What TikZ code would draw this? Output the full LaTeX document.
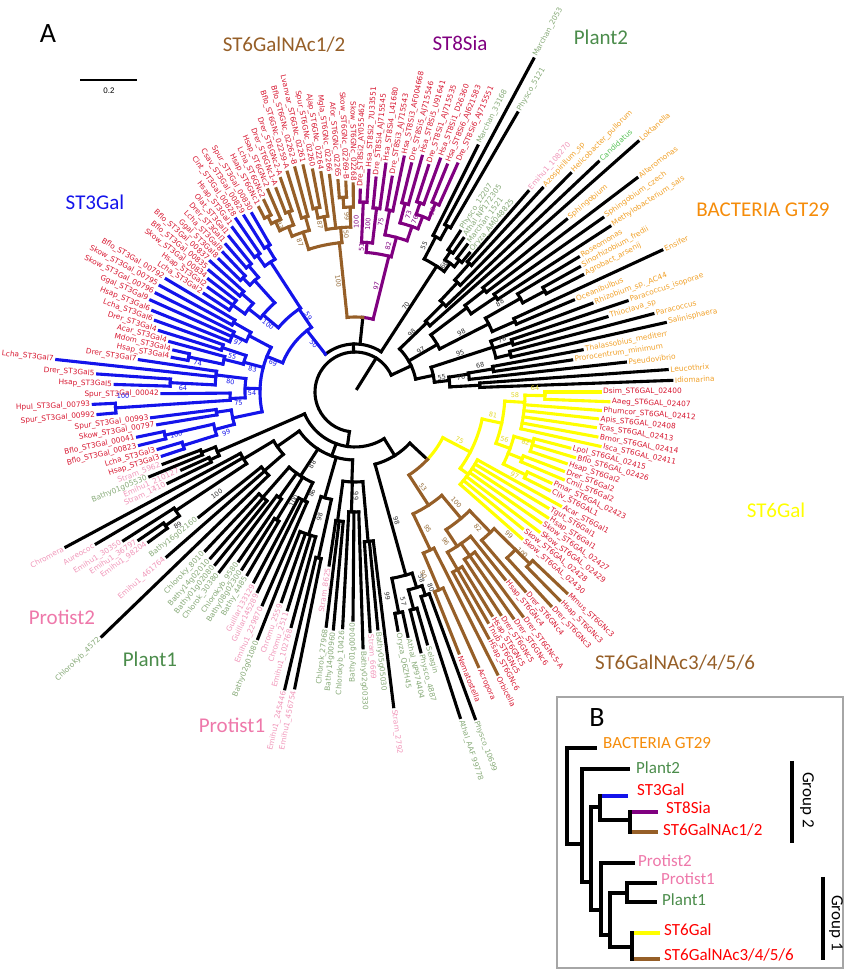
\documentclass[tikz,border=0pt]{standalone}
\usepackage{fontspec}
\setmainfont{Liberation Sans}
\newfontfamily\carl{Carlito}
\newfontfamily\tipf{DejaVu Sans}
\definecolor{stBlue}{RGB}{20,20,235}
\definecolor{stPurple}{RGB}{128,0,128}
\definecolor{stBrown}{RGB}{150,95,40}
\definecolor{stYellow}{RGB}{255,255,0}
\definecolor{redL}{RGB}{215,25,50}
\definecolor{orgL}{RGB}{240,160,40}
\definecolor{orgT}{RGB}{245,140,10}
\definecolor{pltL}{RGB}{135,170,120}
\definecolor{pltT}{RGB}{75,140,75}
\definecolor{pnkL}{RGB}{240,150,185}
\definecolor{pnkT}{RGB}{238,120,170}
\definecolor{grnC}{RGB}{90,195,90}
\definecolor{bsGray}{RGB}{50,50,50}
\definecolor{bsBrown}{RGB}{150,110,60}
\definecolor{bsYel}{RGB}{225,215,40}
\tikzset{
  br/.style={line width=3.1pt, line cap=rect},
  bk/.style={br, black},
  bl/.style={br, stBlue},
  pu/.style={br, stPurple},
  bn/.style={br, stBrown},
  ye/.style={br, stYellow},
  lbl/.style={font=\tipf\fontsize{7.4}{8}\selectfont, inner sep=0pt},
  bsl/.style={font=\tipf\fontsize{6.5}{7}\selectfont, inner sep=0.5pt},
  grp/.style={font=\carl\fontsize{21}{24}\selectfont, inner sep=0pt},
  blab/.style={font=\carl\fontsize{17}{20}\selectfont, anchor=west, inner sep=0pt},
  bbr/.style={line width=3.6pt, line cap=rect},
}
% radial branch: style, angle, r1, r2
\newcommand\rad[4]{\draw[#1] ([shift={(C)}]#2:#3pt) -- ([shift={(C)}]#2:#4pt);}
% arc branch: style, angle1, angle2, r
\newcommand\arcb[4]{\draw[#1] ([shift={(C)}]#2:#4pt) arc[start angle=#2, end angle=#3, radius=#4pt];}
% tip: style, angle, parent r, tip r, label colour, label
\newcommand\tip[6]{%
  \rad{#1}{#2}{#3}{#4}
  \pgfmathsetmacro\tipang{mod(#2+720,360)}%
  \pgfmathtruncatemacro\tipleft{(\tipang>90)*(\tipang<270)}%
  \pgfmathsetmacro\tipr{#4+3}%
  \ifnum\tipleft=1
    \pgfmathsetmacro\tiprot{\tipang-180}%
    \node[lbl,text=#5,anchor=east,rotate=\tiprot] at ([shift={(C)}]#2:\tipr pt) {#6};
  \else
    \node[lbl,text=#5,anchor=west,rotate=#2] at ([shift={(C)}]#2:\tipr pt) {#6};
  \fi}
% bootstrap value: colour, angle, r, value
\newcommand\bsn[4]{%
  \pgfmathsetmacro\bsang{mod(#2+720,360)}%
  \pgfmathtruncatemacro\bsleft{(\bsang>90)*(\bsang<270)}%
  \ifnum\bsleft=1 \pgfmathsetmacro\bsrot{\bsang-180}\else\pgfmathsetmacro\bsrot{#2}\fi
  \node[bsl,text=#1,rotate=\bsrot] at ([shift={(C)}]#2:#3pt) {#4};}

\begin{document}
\catcode`\_=12
\begin{tikzpicture}[x=1pt,y=1pt]
  \useasboundingbox (0,0) rectangle (850,975);
  \coordinate (C) at (355,583);

  % root ring
  \rad{bk}{58}{4}{40}
  \arcb{bk}{25}{262}{40}

  % Bacteria GT29
  \rad{bk}{25}{40}{62} \arcb{bk}{12}{44}{62}
  \rad{bk}{44}{62}{100} \arcb{bk}{41.5}{45.1}{100}
  \rad{bk}{45.1}{100}{125} \arcb{bk}{43.4}{46.9}{125}
  \rad{bk}{46.9}{125}{150} \arcb{bk}{45.4}{48.3}{150}
  \rad{bk}{48.3}{150}{172} \arcb{bk}{47.4}{49.2}{172}
  \rad{bk}{30}{62}{95} \arcb{bk}{27}{37}{95}
  \rad{bk}{37}{95}{140} \arcb{bk}{34}{38.2}{140}
  \rad{bk}{38.2}{140}{165} \arcb{bk}{37.2}{39.2}{165}
  \rad{bk}{34}{140}{170} \arcb{bk}{33}{35.1}{170}
  \rad{bk}{27}{95}{150} \arcb{bk}{23.8}{29.5}{150}
  \rad{bk}{29.5}{150}{190} \arcb{bk}{28}{31.1}{190}
  \rad{bk}{28}{190}{215} \arcb{bk}{27.2}{29.1}{215}
  \rad{bk}{23.8}{150}{175} \arcb{bk}{22.8}{24.8}{175}
  \rad{bk}{12}{62}{80} \arcb{bk}{7}{18}{80}
  \rad{bk}{18}{80}{145} \arcb{bk}{13.6}{20.5}{145}
  \rad{bk}{17.5}{145}{165} \arcb{bk}{16.6}{18.5}{165}
  \rad{bk}{13.6}{145}{160} \arcb{bk}{12.6}{14.7}{160}
  \rad{bk}{7}{80}{95} \arcb{bk}{3.1}{9}{95}
  \rad{bk}{9}{95}{115} \arcb{bk}{6.3}{9.5}{115}
  \rad{bk}{9.5}{115}{140} \arcb{bk}{8.4}{10.5}{140}
  \rad{bk}{3.1}{95}{125} \arcb{bk}{2.1}{4.1}{125}
  \tip{bk}{43.4}{125}{335}{grnC}{Candidatus}
  \tip{bk}{49.2}{172}{265}{pnkL}{Emihu1_108270}
  \foreach \an/\rp/\rt/\nm in {41.5/100/378/Loktanella, 45.4/150/307/Helicobacter_pullorum,
      47.4/172/277/Azospirillum_sp, 39.2/165/273/Sphingobium, 37.2/165/354/Alteromonas,
      35.1/170/303/Sphingobium_czech, 33.0/170/304/Methylobacterium_sals, 31.1/190/261/Roseomonas,
      29.1/215/257/Sinorhizobium_fredii, 27.2/215/256/Agrobact_arsenij, 24.8/175/338/Ensifer,
      22.8/175/237/Oceanibulbus, 20.5/145/253/Rhizobium_sp._AC44, 18.5/165/287/Paracoccus_isoporae,
      16.6/165/263/Thioclava_sp, 14.7/160/308/Paracoccus, 12.6/160/318/Salinisphaera,
      10.5/140/231/Thalassobius_mediterr, 8.4/140/219/Prorocentrum_minimum, 6.3/115/272/Pseudovibrio,
      4.1/125/313/Leucothrix, 2.1/125/317/Idiomarina}
    {\tip{bk}{\an}{\rp}{\rt}{orgL}{\nm}}

  % upper eukaryote arc and Plant2
  \rad{bk}{92}{40}{48} \arcb{bk}{57}{128}{48}
  \rad{bk}{57}{48}{150} \arcb{bk}{53.5}{62.5}{150}
  \rad{bk}{62.5}{150}{175} \arcb{bk}{60.8}{63.5}{175}
  \rad{bk}{60.8}{175}{190} \arcb{bk}{59.8}{61.8}{190}
  \rad{bk}{53.5}{150}{160} \arcb{bk}{51.6}{55.8}{160}
  \rad{bk}{55.8}{160}{170} \arcb{bk}{54.8}{56.8}{170}
  \rad{bk}{51.6}{160}{168} \arcb{bk}{50.5}{52.7}{168}
  \foreach \an/\rp/\rt/\nm in {63.5/175/275/Marchan_33168, 61.8/190/378/Marchan_2053,
      59.8/190/323/Physco_5121, 56.8/170/192/Physco_12207, 54.8/170/188/Athal_NP172305,
      52.7/168/185/Marchan_1521, 50.5/168/180/Oryza_AM048825}
    {\tip{bk}{\an}{\rp}{\rt}{pltL}{\nm}}

  % ST8Sia and ST6GalNAc1/2
  \rad{bk}{84}{48}{75}
  \arcb{pu}{76}{84}{75} \arcb{bn}{84}{96}{75}
  \rad{pu}{76}{75}{140} \arcb{pu}{75}{85.4}{140}
  \rad{pu}{85.4}{140}{150} \arcb{pu}{83.3}{87.5}{150}
  \rad{pu}{87.5}{150}{190} \arcb{pu}{86.4}{88.5}{190}
  \rad{pu}{83.3}{150}{185} \arcb{pu}{82.3}{84.4}{185}
  \rad{pu}{75}{140}{160} \arcb{pu}{71}{79.2}{160}
  \rad{pu}{79.2}{160}{185} \arcb{pu}{78.2}{80.2}{185}
  \rad{pu}{71}{160}{175} \arcb{pu}{68.9}{75.1}{175}
  \rad{pu}{75.1}{175}{195} \arcb{pu}{74.1}{76.1}{195}
  \rad{pu}{68.9}{175}{188} \arcb{pu}{66.9}{71}{188}
  \rad{pu}{71}{188}{200} \arcb{pu}{69.9}{72}{200}
  \rad{pu}{66.9}{188}{205} \arcb{pu}{65.8}{67.9}{205}
  \foreach \an/\rp/\rt/\nm in {88.5/190/202/Dre_ST8Si2_AY055462, 86.4/190/222/Hsa_ST8Si2_7U33551,
      84.4/185/215/Dre_ST8Si4_AJ715545, 82.3/185/230/Hsa_ST8Si4_L41680, 80.2/185/218/Dre_ST8Si3_AJ715543,
      78.2/185/240/Hsa_ST8Si3_AF004668, 76.1/195/235/Dre_ST8Si5_AJ715546, 74.1/195/245/Hsa_ST8Si5_U91641,
      72.0/200/238/Dre_ST8Si1_AJ715535, 69.9/200/248/Hsa_ST8Si1_D26360, 67.9/205/245/Hsa_ST8Si6_AJ621583,
      65.8/205/250/Dre_ST8Si6_AJ715551}
    {\tip{pu}{\an}{\rp}{\rt}{redL}{\nm}}
  \rad{bn}{96}{75}{150} \arcb{bn}{95}{108}{150}
  \rad{bn}{108}{150}{168} \arcb{bn}{105.8}{112}{168}
  \rad{bn}{105.8}{168}{182} \arcb{bn}{105}{107.1}{182}
  \rad{bn}{112}{168}{178} \arcb{bn}{110.2}{115}{178}
  \rad{bn}{110.2}{178}{192} \arcb{bn}{109.2}{111.2}{192}
  \rad{bn}{115}{178}{188} \arcb{bn}{113.3}{116.4}{188}
  \rad{bn}{116.4}{188}{196} \arcb{bn}{115.4}{117.5}{196}
  \rad{bn}{95}{150}{165} \arcb{bn}{91.5}{100}{165}
  \rad{bn}{100}{165}{178} \arcb{bn}{98.8}{102}{178}
  \rad{bn}{102}{178}{188} \arcb{bn}{100.8}{102.9}{188}
  \rad{bn}{91.5}{165}{185} \arcb{bn}{90.5}{93.5}{185}
  \rad{bn}{93.5}{185}{195} \arcb{bn}{92.5}{94.6}{195}
  \foreach \an/\rp/\rt/\nm in {117.5/196/208/Hsap_ST6GNc1, 115.4/196/212/Lcha_ST6GNc2,
      113.3/188/220/Hsap_ST6GNc2, 111.2/192/218/Drer_ST6GNc1-A, 109.2/192/226/Drer_ST6GNc2-A,
      107.1/182/230/Bflo_ST6GNc_02259-A, 105.0/182/232/Bflo_ST6GNc_02262-B, 102.9/188/232/Lvanvar_ST6GNc_02261,
      100.8/188/226/Spur_ST6GNc_02260, 98.8/178/222/Ajap_ST6GNc_02264, 96.7/165/218/Mgla_ST6GNc_02266,
      94.6/195/212/Afor_ST6GNc_02265, 92.5/195/210/Skow_ST6GNc_02269-B, 90.5/185/208/Skow_ST6GNc_02268}
    {\tip{bn}{\an}{\rp}{\rt}{redL}{\nm}}

  % ST3Gal
  \rad{bl}{128}{48}{78} \arcb{bl}{124}{158}{78}
  \rad{bl}{124}{78}{100} \arcb{bl}{123}{140}{100}
  \rad{bl}{123}{100}{155} \arcb{bl}{121.1}{125.6}{155}
  \rad{bl}{121.1}{155}{170} \arcb{bl}{120}{122.2}{170}
  \rad{bl}{125.6}{155}{168} \arcb{bl}{124.5}{126.7}{168}
  \rad{bl}{140}{100}{120} \arcb{bl}{132}{142}{120}
  \rad{bl}{132}{120}{150} \arcb{bl}{130.1}{134.5}{150}
  \rad{bl}{130.1}{150}{165} \arcb{bl}{129}{131.2}{165}
  \rad{bl}{134.5}{150}{160} \arcb{bl}{133.4}{135.7}{160}
  \rad{bl}{142}{120}{135} \arcb{bl}{139}{144.6}{135}
  \rad{bl}{139}{135}{150} \arcb{bl}{137.9}{140.2}{150}
  \rad{bl}{144.6}{135}{150} \arcb{bl}{142.4}{146.9}{150}
  \rad{bl}{158}{78}{95} \arcb{bl}{152}{192}{95}
  \rad{bl}{152}{95}{120} \arcb{bl}{150.2}{155}{120}
  \rad{bl}{150.2}{120}{140} \arcb{bl}{149.1}{151.4}{140}
  \rad{bl}{155}{120}{135} \arcb{bl}{153.6}{158.1}{135}
  \rad{bl}{165}{95}{115} \arcb{bl}{161.5}{166}{115}
  \rad{bl}{161.5}{115}{140} \arcb{bl}{160.3}{162.6}{140}
  \rad{bl}{166}{115}{135} \arcb{bl}{164.8}{168.1}{135}
  \rad{bl}{168.1}{135}{170} \arcb{bl}{167}{169.3}{170}
  \rad{bl}{178}{95}{110} \arcb{bl}{173}{183}{110}
  \rad{bl}{173}{110}{140} \arcb{bl}{171.5}{177.1}{140}
  \rad{bl}{177.1}{140}{185} \arcb{bl}{176}{178.2}{185}
  \rad{bl}{183}{110}{125} \arcb{bl}{180.5}{183.8}{125}
  \rad{bl}{183.8}{125}{240} \arcb{bl}{182.7}{185}{240}
  \rad{bl}{192}{95}{125} \arcb{bl}{188.3}{195}{125}
  \rad{bl}{188.3}{125}{140} \arcb{bl}{187.2}{189.4}{140}
  \rad{bl}{195}{125}{145} \arcb{bl}{192.8}{197.3}{145}
  \rad{bl}{192.8}{145}{195} \arcb{bl}{191.7}{193.9}{195}
  \rad{bl}{197.3}{145}{180} \arcb{bl}{196.2}{198.4}{180}
  \foreach \an/\rp/\rt/\nm in {120.0/170/206/Spur_ST3Gal_00830, 122.2/170/208/Csav_ST3Gal_00829,
      124.5/168/210/Cint_ST3Gal_00828, 126.7/168/205/Hsap_ST3Gal1, 129.0/165/200/Olat_ST3Gal1,
      131.2/165/196/Drer_ST3Gal1, 133.4/160/192/Lcha_ST3Gal8, 135.7/160/190/Ggal_ST3Gal8,
      137.9/150/195/Bflo_ST3Gal_00837, 140.2/150/190/Bflo_ST3Gal_00835, 142.4/150/185/Skow_ST3Gal_00834,
      144.6/150/180/Hsap_ST3Gal2, 146.9/150/180/Lcha_ST3Gal2, 149.1/140/220/Bflo_ST3Gal_00792,
      151.4/140/222/Skow_ST3Gal_00795, 153.6/135/222/Skow_ST3Gal_00796, 155.8/135/224/Ggal_ST3Gal9,
      158.1/135/218/Hsap_ST3Gal6, 160.3/140/212/Lcha_ST3Gal6, 162.6/140/205/Drer_ST3Gal4,
      164.8/135/192/Acar_ST3Gal4, 167.0/170/186/Mdom_ST3Gal4, 169.3/170/186/Hsap_ST3Gal4,
      171.5/140/218/Drer_ST3Gal7, 173.8/140/300/Lcha_ST3Gal7, 176.0/185/258/Drer_ST3Gal5,
      178.2/185/240/Hsap_ST3Gal5, 180.5/125/193/Spur_ST3Gal_00042, 182.7/240/262/Hpul_ST3Gal_00793,
      185.0/240/258/Spur_ST3Gal_00992, 187.2/140/205/Spur_ST3Gal_00993, 189.4/140/200/Skow_ST3Gal_00797,
      191.7/195/222/Bflo_ST3Gal_00041, 193.9/195/222/Bflo_ST3Gal_00823, 196.2/180/205/Lcha_ST3Gal3,
      198.4/180/203/Hsap_ST3Gal3}
    {\tip{bl}{\an}{\rp}{\rt}{redL}{\nm}}

  % lower arcs
  \rad{bk}{-98}{40}{55} \arcb{bk}{-156.5}{-58}{55}
  \rad{bk}{-58}{55}{75} \arcb{bk}{-74.5}{-43}{75}
  \rad{bk}{-43}{75}{99}

  % ST6Gal
  \arcb{ye}{-43}{-27.5}{99}
  \rad{ye}{-27.5}{99}{130} \arcb{ye}{-36}{-12}{130}
  \rad{ye}{-36}{130}{140} \arcb{ye}{-41.3}{-29}{140}
  \rad{ye}{-12}{130}{150} \arcb{ye}{-20}{-3.5}{150}
  \rad{ye}{-3.5}{150}{170} \arcb{ye}{-12.5}{-1.1}{170}
  \rad{ye}{-1.1}{170}{190} \arcb{ye}{-2.2}{0}{190}
  \rad{ye}{-20}{150}{165} \arcb{ye}{-25.9}{-15.6}{165}
  \rad{ye}{-15.6}{165}{185} \arcb{ye}{-18.7}{-14.6}{185}
  \rad{ye}{-21.8}{165}{180} \arcb{ye}{-22.8}{-20.8}{180}
  \rad{ye}{-25.9}{165}{190} \arcb{ye}{-26.9}{-24.9}{190}
  \foreach \an/\rp/\rt/\nm in {0.0/190/245/Dsim_ST6GAL_02400, -2.2/190/254/Aaeg_ST6GAL_02407,
      -4.3/170/246/Phumcor_ST6GAL_02412, -6.3/170/244/Apis_ST6GAL_02408, -8.4/170/243/Tcas_ST6GAL_02413,
      -10.5/170/246/Bmor_ST6GAL_02414, -12.5/170/251/Isca_ST6GAL_02411, -14.6/185/222/Lpol_ST6GAL_02415,
      -16.6/185/229/Bflo_ST6GAL_02426, -18.7/185/223/Hsap_ST6Gal2, -20.8/180/223/Drer_ST6Gal2,
      -22.8/180/226/Cmil_ST6Gal2, -24.9/190/216/Pmar_ST6GAL_02423, -26.9/190/218/Cliv_ST6GAL1,
      -29.0/140/235/Acar_ST6Gal1, -31.0/140/225/Tgut_ST6Gal1, -33.1/140/230/Hsap_ST6Gal1,
      -35.1/140/227/Skow_ST6GAL_02427, -37.2/140/231/Skow_ST6GAL_02429, -39.2/140/216/Skow_ST6GAL_02428,
      -41.3/140/222/Skow_ST6GAL_02430}
    {\tip{ye}{\an}{\rp}{\rt}{redL}{\nm}}

  % ST6GalNAc3/4/5/6
  \arcb{bn}{-57}{-43}{99}
  \rad{bn}{-57}{99}{135} \arcb{bn}{-64.5}{-50}{135}
  \rad{bn}{-64.5}{135}{175} \arcb{bn}{-67}{-63.2}{175}
  \rad{bn}{-67}{175}{215} \arcb{bn}{-68.3}{-65.8}{215}
  \rad{bn}{-50}{135}{165} \arcb{bn}{-56.5}{-46}{165}
  \rad{bn}{-46}{165}{195} \arcb{bn}{-49.5}{-44.5}{195}
  \rad{bn}{-44.5}{195}{225} \arcb{bn}{-47.5}{-44.5}{225}
  \rad{bn}{-44.5}{225}{245} \arcb{bn}{-45.5}{-43.5}{245}
  \rad{bn}{-56.5}{165}{185} \arcb{bn}{-60}{-51.3}{185}
  \rad{bn}{-55}{185}{200} \arcb{bn}{-56.8}{-53.2}{200}
  \rad{bn}{-60}{185}{205} \arcb{bn}{-61.5}{-58.5}{205}
  \foreach \an/\rp/\rt/\nm in {-43.5/245/292/Mmus_ST6GNc3, -45.5/245/292/Hsap_ST6GNc3,
      -47.5/225/290/Drer_ST6GNc3, -49.5/195/262/Drer_ST6GNc4, -51.3/185/240/Hsap_ST6GNc4,
      -53.2/200/280/Drer_ST6GNc5-A, -55.0/200/276/Drer_ST6GNc6, -56.8/200/266/Drer_ST6GNc5,
      -58.5/205/262/Hsap_ST6GNc5, -60.0/205/266/Tnub_ST6GNc5, -61.5/205/280/Hsap_ST6GNc6,
      -63.2/175/316/Orbicella, -65.8/215/301/Acropora, -68.3/215/281/Nematostella}
    {\tip{bn}{\an}{\rp}{\rt}{redL}{\nm}}

  % Plant1 (land plants)
  \rad{bk}{-74.5}{75}{190} \arcb{bk}{-78.8}{-72.5}{190}
  \rad{bk}{-78.8}{190}{225} \arcb{bk}{-79.8}{-77.8}{225}
  \rad{bk}{-72.5}{190}{205} \arcb{bk}{-74.9}{-70.9}{205}
  \rad{bk}{-70.9}{205}{215} \arcb{bk}{-72.1}{-69.8}{215}
  \rad{bk}{-74.9}{205}{225} \arcb{bk}{-75.8}{-74}{225}
  \tip{bk}{-69.8}{215}{348}{pltL}{Physco_10699}
  \tip{bk}{-72.1}{215}{342}{pltL}{Athal_AAF 99778}
  \tip{bk}{-74.0}{225}{262}{pltL}{Selagin}
  \tip{bk}{-75.8}{225}{268}{pltL}{Physco_4887}
  \tip{bk}{-77.8}{225}{250}{pltL}{Athal_NP974404}
  \tip{bk}{-79.8}{225}{242}{pltL}{Oryza_Q6ZH45}

  % Plant1, Protist1, Protist2 fan
  \rad{bk}{-156.5}{55}{150} \arcb{bk}{-158.5}{-154.9}{150}
  \rad{bk}{-154.9}{150}{160} \arcb{bk}{-155.8}{-154}{160}
  \rad{bk}{-158.5}{150}{165} \arcb{bk}{-159.4}{-157.6}{165}
  \rad{bk}{-110}{55}{68} \arcb{bk}{-145}{-92}{68}
  \rad{bk}{-145}{68}{95} \arcb{bk}{-149}{-139}{95}
  \rad{bk}{-149}{95}{130} \arcb{bk}{-151.8}{-146.5}{130}
  \rad{bk}{-146.5}{130}{215} \arcb{bk}{-147.3}{-144.8}{215}
  \rad{bk}{-144.8}{215}{232} \arcb{bk}{-145.6}{-144}{232}
  \rad{bk}{-139}{95}{120} \arcb{bk}{-141.3}{-136}{120}
  \rad{bk}{-123}{68}{100} \arcb{bk}{-131.2}{-115}{100}
  \rad{bk}{-131.2}{100}{140} \arcb{bk}{-133.3}{-129}{140}
  \rad{bk}{-125.7}{100}{130} \arcb{bk}{-127}{-124.5}{130}
  \rad{bk}{-121.5}{100}{150} \arcb{bk}{-122.5}{-120.5}{150}
  \rad{bk}{-115}{100}{120} \arcb{bk}{-118}{-113.5}{120}
  \rad{bk}{-106}{68}{110} \arcb{bk}{-108}{-102.4}{110}
  \rad{bk}{-102.4}{110}{170} \arcb{bk}{-103.3}{-101.5}{170}
  \rad{bk}{-108}{110}{150} \arcb{bk}{-111.5}{-105.2}{150}
  \rad{bk}{-92}{68}{90} \arcb{bk}{-97.7}{-85}{90}
  \rad{bk}{-97.7}{90}{130} \arcb{bk}{-98.5}{-95.2}{130}
  \rad{bk}{-91.7}{90}{120} \arcb{bk}{-93}{-88.2}{120}
  \rad{bk}{-85}{90}{150} \arcb{bk}{-86.4}{-83}{150}
  \foreach \an/\rp/\rt/\cl/\nm in {-83.0/150/317/pnkL/Stram_2792, -84.5/150/238/pltL/Bathy05g05030,
      -86.4/150/240/pnkL/Stram_6669, -88.2/120/256/pltL/Bathy02g00330, -90.5/120/228/pltL/Bathy01g00040,
      -93.0/120/236/pltL/Chlorokyb_10426, -95.2/130/238/pltL/Bathy14g00960, -97.0/130/236/pltL/Chlorok_27968,
      -98.5/130/175/pnkL/Stram_8625, -101.5/170/302/pnkL/Emihu1_456754, -103.3/170/305/pnkL/Emihu1_245446,
      -105.2/150/243/pnkL/Emihu1_102768, -107.2/150/228/pnkL/Chromu_2511, -109.3/150/222/pnkL/Chromu_2559,
      -111.5/150/265/pltL/Bathy02g01080, -113.5/120/232/pnkL/Emihu1_229870, -116.0/120/222/pnkL/Guillar145289,
      -118.0/120/215/pnkL/Guillar133129, -120.5/150/212/pltL/Bathy_4485, -122.5/150/210/pltL/Bathy08g02300,
      -124.5/130/205/pltL/Chlorokyb_9580, -127.0/130/225/pltL/Chlorok_30380, -129.0/140/222/pltL/Bathy01g02080,
      -131.0/140/220/pltL/Bathy14g02010, -133.3/140/218/pltL/Chloroky_8010, -136.0/120/352/pltL/Chlorokyb_4572,
      -138.8/120/250/pnkL/Emihu1_461764, -141.3/120/200/pltL/Bathy16g02160, -144.0/232/255/pnkL/Emihu1_98204,
      -145.6/232/262/pnkL/Emihu1_36797, -147.3/215/275/pnkL/Emihu1_30350, -149.6/130/300/pnkL/Aureococ,
      -151.8/130/328/pnkL/Chromera, -154.0/160/208/pnkL/Stram_1410, -155.8/160/190/pnkL/Emihu1_210127,
      -157.6/165/222/pltL/Bathy01g05530, -159.4/165/205/pnkL/Stram_5962}
    {\tip{bk}{\an}{\rp}{\rt}{\cl}{\nm}}

  % bootstrap values
  \foreach \an/\r/\v in {59.5/100/70, 64.8/162/55, 55.0/155/68, 46.2/82/98, 32.5/78/97, 29.3/122/98,
      31.6/170/88, 20.2/112/95, 19.6/156/78, 9.6/88/55, 12.0/128/68, 7.9/107/76, -72.2/135/98,
      -81.0/207/99, -70.4/198/58, -68.8/210/80, -77.0/215/57, -143.5/172/100, -143.0/222/89,
      -113.0/110/86, -119.3/125/100, -105.8/130/98, -120.6/84/88, -89.4/104/99}
    {\bsn{bsGray}{\an}{\r}{\v}}
  \foreach \an/\r/\v in {78.6/108/97, 89.6/170/100, 85.6/168/100, 77.2/150/82, 81.4/172/75,
      70.8/182/76, 73.2/185/73, 66.8/196/93, 87.4/145/51}
    {\bsn{stPurple}{\an}{\r}{\v}}
  \foreach \an/\r/\v in {98.6/112/100, 110.2/159/87, 93.2/158/50, 101.8/171/87, 114.2/183/83, 92.6/176/99,
      -54.5/117/53, -47.5/150/100, -62.0/155/95, -58.8/175/96, -69.4/195/90, -42.8/210/99,
      -43.9/232/100, -47.8/183/82}
    {\bsn{bsBrown}{\an}{\r}{\v}}
  \foreach \an/\r/\v in {131/63/50, 160.6/87/69, 121.6/89/59, 142.2/110/100, 180.6/103/54, 167.4/105/83,
      175.3/125/80, 185.4/117/75, 181/232/100, 197.5/135/99, 193.4/184/100, 157.2/127/97,
      163.7/128/55, 169.5/160/74, 178.8/172/64}
    {\bsn{stBlue}{\an}{\r}{\v}}
  \foreach \an/\r/\v in {-24.7/115/75, -9.6/140/81, -1.2/160/58, -17.6/157/56, 1.2/180/64,
      -16.5/178/82, -27.5/180/97}
    {\bsn{bsYel}{\an}{\r}{\v}}

  % clade names
  \node[font=\carl\fontsize{28}{30}\selectfont] (lblA) at (48,941) {A};
  \draw[line width=1.2pt] (80,895) -- (137,895);
  \node[font=\fontsize{8}{9}\selectfont] (scale) at (109,884) {0.2};
  \node[grp,text=stBrown] (tGNc12) at (284,930) {ST6GalNAc1/2};
  \node[grp,text=stPurple] (tSia) at (460,932) {ST8Sia};
  \node[grp,text=pltT] (tPlant2) at (601,938) {Plant2};
  \node[grp,text=orgT] (tBact) at (763,765) {BACTERIA GT29};
  \node[grp,text=stBlue] (tST3) at (95,773) {ST3Gal};
  \node[grp,text=stYellow] (tST6) at (776,465) {ST6Gal};
  \node[grp,text=stBrown] (tGNc36) at (675,312) {ST6GalNAc3/4/5/6};
  \node[grp,text=pnkT] (tProt2) at (62,358) {Protist2};
  \node[grp,text=pltT] (tPlant1) at (150,316) {Plant1};
  \node[grp,text=pnkT] (tProt1) at (232,250) {Protist1};

  % panel B
  \draw[gray!70, line width=1.5pt] (557,7) rectangle (843,278);
  \node[font=\carl\fontsize{28}{30}\selectfont] (lblB) at (597,257) {B};
  \node[blab,text=orgT] (bBact) at (603,232) {BACTERIA GT29};
  \node[blab,text=pltT] (bPlant2) at (636,207) {Plant2};
  \node[blab,text=red] (bST3) at (637,185) {ST3Gal};
  \node[blab,text=red] (bSia) at (666,167) {ST8Sia};
  \node[blab,text=red] (bGNc12) at (663,145) {ST6GalNAc1/2};
  \node[blab,text=pnkT] (bProt2) at (638,114) {Protist2};
  \node[blab,text=pnkT] (bProt1) at (661,96) {Protist1};
  \node[blab,text=pltT] (bPlant1) at (662,75) {Plant1};
  \node[blab,text=red] (bST6) at (664,45) {ST6Gal};
  \node[blab,text=red] (bGNc36) at (664,20) {ST6GalNAc3/4/5/6};
  \draw[bbr] (595,227) -| (567,131) -- (582,131);
  \draw[bbr] (628,206) -| (582,93) -- (591,93);
  \draw[bbr] (600,168) -| (591,65) -- (601,65);
  \draw[bbr] (600,179) -- (600,155) -- (630,155);
  \draw[bbr] (630,163) -- (630,143);
  \draw[line width=3.6pt, stBlue] (601.8,179) -- (628,179);
  \draw[line width=3.6pt, stPurple] (631.8,163) -- (658,163);
  \draw[line width=3.6pt, stBrown] (631.8,143) -- (658,143);
  \draw[bbr] (633,112) -| (601,40) -- (610,40);
  \draw[bbr] (627,82) -| (610,28) -- (632,28);
  \draw[bbr] (655,92) -| (627,73) -- (655,73);
  \draw[bbr] (632,42) -- (632,16);
  \draw[line width=3.6pt, stYellow] (633.8,42) -- (660,42);
  \draw[line width=3.6pt, stBrown] (633.8,16) -- (660,16);
  \draw[line width=4.5pt] (792,214) -- (792,132);
  \node[font=\carl\fontsize{17}{20}\selectfont, rotate=-90] (grp2) at (807,175) {Group 2};
  \draw[line width=4.5pt] (823,98) -- (823,15);
  \node[font=\carl\fontsize{17}{20}\selectfont, rotate=-90] (grp1) at (836,52) {Group 1};
\end{tikzpicture}
\end{document}
